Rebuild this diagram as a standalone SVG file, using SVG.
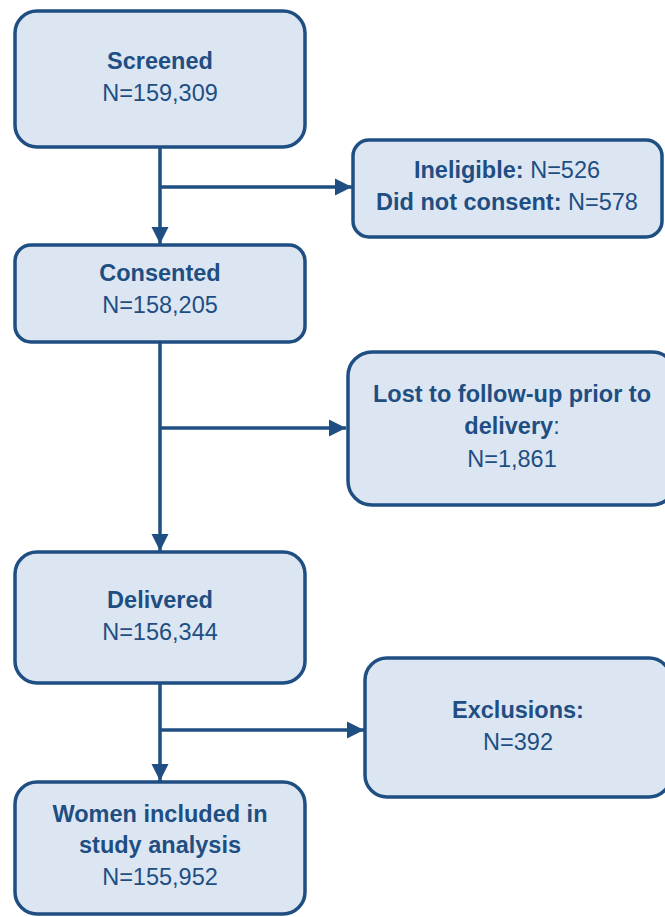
<svg xmlns="http://www.w3.org/2000/svg" width="665" height="917" viewBox="0 0 665 917">
<style>
.box{fill:#dce6f2;stroke:#1f4e82;stroke-width:3.5}
.t{font-family:"Liberation Sans",Arial,sans-serif;font-size:23.5px;fill:#1f4e82;text-anchor:middle}
.b{font-weight:bold}
.c{fill:none;stroke:#1f4e82;stroke-width:3.5}
</style>
<defs>
<marker id="ah" viewBox="0 0 10 10" refX="10" refY="5" markerWidth="5" markerHeight="5" markerUnits="strokeWidth" orient="auto">
<path d="M0,0 L10,5 L0,10 Z" fill="#1f4e82"/>
</marker>
</defs>
<rect width="665" height="917" fill="#ffffff"/>
<g id="connectors">
<line class="c" x1="160" y1="147" x2="160" y2="244" marker-end="url(#ah)"/>
<line class="c" x1="160" y1="187" x2="352" y2="187" marker-end="url(#ah)"/>
<line class="c" x1="160" y1="342" x2="160" y2="551" marker-end="url(#ah)"/>
<line class="c" x1="160" y1="428" x2="346" y2="428" marker-end="url(#ah)"/>
<line class="c" x1="160" y1="683" x2="160" y2="781" marker-end="url(#ah)"/>
<line class="c" x1="160" y1="730" x2="364" y2="730" marker-end="url(#ah)"/>
</g>
<g id="screened">
<rect class="box" x="15" y="11" width="290" height="136" rx="22"/>
<text class="t b" x="160" y="69">Screened</text>
<text class="t" x="160" y="101">N=159,309</text>
</g>
<g id="ineligible">
<rect class="box" x="353" y="140" width="309" height="97" rx="16"/>
<text class="t" x="507" y="178"><tspan class="b">Ineligible:</tspan> N=526</text>
<text class="t" x="507" y="210"><tspan class="b">Did not consent:</tspan> N=578</text>
</g>
<g id="consented">
<rect class="box" x="15" y="245" width="290" height="97" rx="16"/>
<text class="t b" x="160" y="281">Consented</text>
<text class="t" x="160" y="313">N=158,205</text>
</g>
<g id="lost">
<rect class="box" x="348" y="352" width="328" height="153" rx="24"/>
<text class="t b" x="512" y="402">Lost to follow-up prior to</text>
<text class="t" x="512" y="434"><tspan class="b">delivery</tspan>:</text>
<text class="t" x="512" y="467">N=1,861</text>
</g>
<g id="delivered">
<rect class="box" x="15" y="552" width="290" height="131" rx="22"/>
<text class="t b" x="160" y="608">Delivered</text>
<text class="t" x="160" y="640">N=156,344</text>
</g>
<g id="exclusions">
<rect class="box" x="365" y="658" width="306" height="139" rx="22"/>
<text class="t b" x="518" y="718">Exclusions:</text>
<text class="t" x="518" y="750">N=392</text>
</g>
<g id="women">
<rect class="box" x="15" y="782" width="290" height="132" rx="22"/>
<text class="t b" x="160" y="822">Women included in</text>
<text class="t b" x="160" y="853">study analysis</text>
<text class="t" x="160" y="885">N=155,952</text>
</g>
</svg>
